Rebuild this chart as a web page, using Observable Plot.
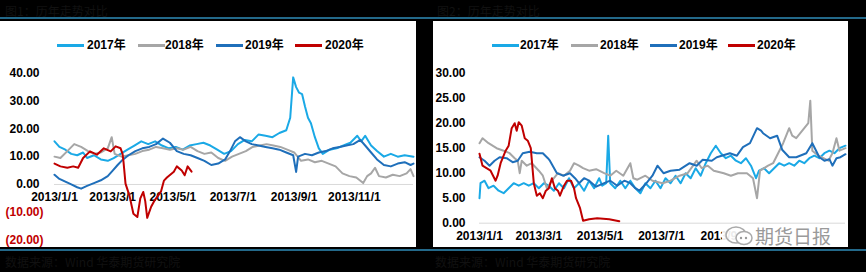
<!DOCTYPE html>
<html><head><meta charset="utf-8">
<script src="https://cdn.jsdelivr.net/npm/d3@7"></script>
<script src="https://cdn.jsdelivr.net/npm/@observablehq/plot@0.6"></script>
<style>
html,body{margin:0;padding:0;background:#000;width:866px;height:272px;overflow:hidden;font-family:"Liberation Sans",Arial,sans-serif;}
.rule{position:absolute;left:0;width:866px;height:2px;background:#23698a;}
.title{position:absolute;top:2px;font-size:12px;color:#111;font-family:"Noto Sans CJK SC",sans-serif;white-space:nowrap;}
.foot{position:absolute;top:253px;font-size:12px;color:#111;font-family:"Noto Sans CJK SC",sans-serif;white-space:nowrap;}
.panel{position:absolute;top:21px;height:226px;background:#fff;overflow:hidden;}
.panel svg{position:absolute;left:0;top:0;}
.sw{position:absolute;height:3px;width:27px;}
.lt{position:absolute;font-size:12px;font-weight:bold;color:#000;line-height:14px;font-family:"Liberation Sans","Noto Sans CJK SC",sans-serif;}
.wm{position:absolute;left:289px;top:203px;width:124px;height:23px;background:rgba(255,255,255,0.92);}
.wm span{position:absolute;left:33px;top:-2px;font-size:19px;color:#9a9a9a;font-family:"Noto Sans CJK SC",sans-serif;}
</style>
</head><body>
<div class="title" style="left:5px">图1：历年走势对比</div>
<div class="title" style="left:437px">图2：历年走势对比</div>
<div class="rule" style="top:17px"></div>
<div class="rule" style="top:249px"></div>
<div class="foot" style="left:5px">数据来源：Wind 华泰期货研究院</div>
<div class="foot" style="left:435px">数据来源：Wind 华泰期货研究院</div>
<div id="left" class="panel" style="left:0;width:416px"></div>
<div id="right" class="panel" style="left:433px;width:415px"></div>
<script>
// ---------- data ----------
const seriesNames = ["2017年", "2018年", "2019年", "2020年"];
const seriesColors = ["#1aa9e6", "#a6a6a6", "#1f6fba", "#c00000"];
const xTickLabels = ["2013/1/1", "2013/3/1", "2013/5/1", "2013/7/1", "2013/9/1", "2013/11/1"];
const leftYTicks = [-20, -10, 0, 10, 20, 30, 40];
const rightYTicks = [0, 5, 10, 15, 20, 25, 30];

const left2017 = [["01-01",15.5],["01-06",13.5],["01-12",12.5],["01-18",11],["01-24",10.5],["01-30",11.5],["02-03",9.5],["02-10",10.5],["02-17",9],["02-24",8.5],["03-02",9.5],["03-09",11],["03-16",12.5],["03-23",14],["03-30",15.5],["04-06",14.5],["04-13",15.5],["04-20",14],["04-27",13],["05-04",13.5],["05-11",12.5],["05-18",14],["05-25",14.5],["06-01",15],["06-08",14],["06-15",12.5],["06-22",11],["06-29",12],["07-06",14.5],["07-13",16],["07-20",15.5],["07-27",18],["08-03",17.5],["08-10",17],["08-17",18.5],["08-24",19.5],["08-28",24],["08-31",38.5],["09-03",35],["09-06",33],["09-09",32.5],["09-12",28],["09-15",24],["09-18",22],["09-22",17],["09-26",13],["09-30",11],["10-07",12.5],["10-14",13],["10-21",14],["10-28",15],["11-04",17.5],["11-08",15.5],["11-12",17.5],["11-18",14],["11-24",12],["12-01",10],["12-08",11],["12-15",10],["12-22",10.5],["12-31",10]];
const left2018 = [["01-01",10],["01-07",9.5],["01-14",12],["01-21",14.5],["01-28",13.5],["02-04",12],["02-10",11],["02-17",11.5],["02-24",13],["02-28",17],["03-03",11],["03-10",10],["03-17",10.5],["03-24",11],["03-31",12],["04-07",12.5],["04-14",13.5],["04-21",13],["04-28",12.5],["05-05",13],["05-12",12.5],["05-19",13.5],["05-26",12],["06-02",11],["06-09",11.5],["06-16",9.5],["06-23",8.5],["06-30",10],["07-07",11],["07-14",12],["07-21",13.5],["07-28",14],["08-04",14.5],["08-11",14],["08-18",13.5],["08-25",12.5],["09-01",11.5],["09-08",8.5],["09-15",9],["09-22",8],["09-29",8.5],["10-06",7.5],["10-13",6.5],["10-20",4],["10-27",3],["11-03",2.5],["11-10",0.5],["11-14",3],["11-18",4],["11-22",6],["11-26",3],["12-03",2.5],["12-10",3.5],["12-17",3],["12-24",4],["12-28",5.5],["12-31",3]];
const left2019 = [["01-01",3.5],["01-06",2],["01-12",1],["01-18",0],["01-24",-1],["01-28",-1.5],["02-03",-0.5],["02-10",0.5],["02-17",1.5],["02-24",3],["03-01",5],["03-06",7],["03-10",8.5],["03-17",10.5],["03-24",12],["03-31",13],["04-07",13.5],["04-14",14.5],["04-21",16.5],["04-28",15],["05-05",12],["05-12",11],["05-19",10.5],["05-26",9.5],["06-02",8.5],["06-09",7],["06-16",7.5],["06-23",9],["06-28",12],["07-03",15.5],["07-08",17],["07-14",15.5],["07-20",14.5],["07-27",14],["08-03",13.5],["08-10",13],["08-17",12.5],["08-24",11.5],["08-31",10.5],["09-03",4.5],["09-05",10],["09-12",11],["09-19",10.5],["09-26",11.5],["10-03",12],["10-10",13],["10-17",13.5],["10-24",14],["10-31",14.5],["11-07",16],["11-12",14],["11-18",11.5],["11-24",9],["12-01",7],["12-08",6.5],["12-15",7.5],["12-22",8],["12-28",7],["12-31",7.5]];
const left2020 = [["01-01",7.5],["01-07",6.5],["01-14",6],["01-20",6.5],["01-25",6],["01-30",9.5],["02-06",11.9],["02-13",10.7],["02-20",13],["02-27",11.9],["03-04",13.7],["03-09",13],["03-11",11],["03-12",8],["03-14",0.3],["03-18",-4],["03-22",-10.5],["03-26",-11.7],["03-29",-5],["04-01",-2.7],["04-03",-6],["04-05",-12],["04-09",-8],["04-12",-6],["04-16",-4],["04-19",-2.5],["04-22",1.4],["04-25",2.5],["05-02",4.6],["05-05",6.5],["05-10",5],["05-13",3.3],["05-16",6.5],["05-20",4.6]];

const right2017 = [["01-01",5],["01-02",8],["01-06",8.5],["01-10",7],["01-15",7.5],["01-20",6.5],["01-25",6],["01-30",7],["02-04",8],["02-09",7.5],["02-14",8],["02-19",7.5],["02-24",8],["03-01",7],["03-06",8],["03-11",7.5],["03-16",6.5],["03-21",8],["03-26",7],["03-31",9],["04-05",7],["04-10",8],["04-15",6.5],["04-20",8.5],["04-25",7],["04-30",9],["05-03",7.5],["05-07",8],["05-09",17.5],["05-11",8],["05-16",7],["05-21",8.5],["05-26",7],["05-31",8.5],["06-05",7],["06-10",6],["06-15",8],["06-20",7],["06-25",8.5],["06-30",7],["07-05",9],["07-10",8],["07-15",9.5],["07-20",8],["07-25",10],["07-30",9],["08-04",11],["08-09",9.5],["08-14",12],["08-19",14],["08-24",15.5],["08-29",14],["09-03",13],["09-08",13.5],["09-13",12.5],["09-18",12],["09-23",13],["09-28",11.5],["10-03",9],["10-06",10.5],["10-11",11],["10-16",10],["10-21",11],["10-26",12],["10-31",11.5],["11-05",12],["11-10",11.5],["11-15",12.5],["11-20",12],["11-25",13],["11-30",13.5],["12-05",13],["12-10",14],["12-15",14.5],["12-20",14],["12-25",15],["12-31",15.5]];
const right2018 = [["01-01",16],["01-04",17],["01-10",16],["01-18",15],["01-25",14.5],["01-31",14],["02-05",13],["02-08",12.5],["02-10",10],["02-12",12.5],["02-17",11.5],["02-22",12],["03-01",10.5],["03-05",9.5],["03-09",7],["03-14",8.5],["03-20",10],["03-26",9.5],["04-01",10.5],["04-05",12],["04-10",11.5],["04-14",11],["04-20",10.5],["04-27",10.8],["05-05",10],["05-11",9.5],["05-17",10.5],["05-24",9.5],["05-31",12],["06-03",9],["06-07",8.7],["06-15",9.5],["06-22",8.5],["07-02",8],["07-10",8.5],["07-19",9.5],["07-27",10],["08-05",12.5],["08-10",11],["08-16",11.5],["08-22",10.5],["09-01",10],["09-08",9.5],["09-15",10],["09-24",10],["09-30",9],["10-04",5],["10-07",10.5],["10-15",11.5],["10-20",12],["10-25",14],["10-30",16],["11-05",19],["11-08",17.5],["11-12",17],["11-18",18.5],["11-24",20],["11-26",24.5],["11-28",14.5],["12-04",13.5],["12-09",13],["12-14",12.5],["12-18",14],["12-22",17],["12-25",14.5],["12-31",15]];
const right2019 = [["01-01",13.2],["01-06",12.5],["01-11",11.5],["01-16",12.5],["01-21",13.2],["01-28",13],["02-03",12.2],["02-08",12.5],["02-13",14],["02-20",14.3],["02-27",14],["03-05",14],["03-10",13],["03-12",12.5],["03-19",10],["03-25",9.5],["04-01",10],["04-06",9],["04-10",8],["04-15",9],["04-20",8.5],["04-27",7.3],["05-05",8],["05-11",8.5],["05-18",7.5],["05-25",8.5],["05-31",8],["06-05",7],["06-09",6.5],["06-16",8],["06-22",9.5],["06-27",11.5],["07-03",10],["07-10",10.5],["07-19",10.7],["07-29",12],["08-05",11.5],["08-11",12.7],["08-20",12.5],["08-25",13.2],["09-07",14],["09-14",13.5],["09-20",15.2],["09-27",16],["10-04",19],["10-08",18.5],["10-10",18],["10-17",17],["10-24",17.5],["10-29",14.7],["11-05",13.2],["11-12",13.2],["11-22",14],["11-28",16],["12-05",13.2],["12-10",12.5],["12-15",12.8],["12-18",11.5],["12-22",13],["12-26",13.2],["12-31",13.8]];
const right2020 = [["01-01",13.9],["01-04",11.5],["01-08",11],["01-12",10.5],["01-17",8.5],["01-19",9.5],["01-22",12],["01-27",14.5],["01-30",15.5],["02-02",19],["02-05",20],["02-07",18.5],["02-09",20.2],["02-12",19.5],["02-15",17],["02-18",16.5],["02-21",15],["02-24",8],["02-27",5.5],["03-02",6],["03-05",5],["03-08",6.5],["03-11",7],["03-14",9],["03-17",7],["03-20",6.5],["03-22",5.5],["03-26",7.5],["03-29",8.5],["04-02",8.5],["04-05",7],["04-07",5],["04-11",3],["04-14",0.5],["04-20",0.8],["04-28",1],["05-10",0.8],["05-20",0.4]];

// ---------- helpers ----------
const toDate = md => new Date(`2013-${md}T00:00:00Z`);
const parseTick = d3.utcParse("%Y/%m/%d");
const rows = arr => arr.map(([md, v]) => ({date: toDate(md), value: v}));
const font = `"Liberation Sans", Arial, sans-serif`;

function legend(el, swatchX, textX) {
  seriesNames.forEach((name, i) => {
    const s = document.createElement("div");
    s.className = "sw";
    s.style.left = swatchX[i] + "px";
    s.style.top = "23px";
    s.style.background = seriesColors[i];
    el.appendChild(s);
    const t = document.createElement("div");
    t.className = "lt";
    t.style.left = textX[i] + "px";
    t.style.top = "17px";
    t.textContent = name;
    el.appendChild(t);
  });
}

function panel(el, cfg) {
  const lines = cfg.series.map((s, i) => Plot.line(rows(s), {x: "date", y: "value", stroke: seriesColors[i], strokeWidth: 2}));
  const chart = Plot.plot({
    width: cfg.width, height: 226,
    marginLeft: cfg.marginLeft, marginRight: 3, marginTop: cfg.marginTop, marginBottom: cfg.marginBottom,
    x: {type: "utc", domain: [toDate("01-01"), toDate("12-31")], axis: null},
    y: {domain: cfg.yDomain, label: null},
    style: {background: "transparent", fontFamily: font, fontSize: "12px", fontWeight: "bold", color: "#000", overflow: "visible"},
    marks: [
      Plot.ruleY([0], {stroke: "#d9d9d9", strokeWidth: 1}),
      Plot.axisY(cfg.yTicks.filter(d => d >= 0), {tickSize: 0, tickPadding: cfg.pad, tickFormat: d => d.toFixed(2), label: null, fill: "#000"}),
      Plot.axisY(cfg.yTicks.filter(d => d < 0), {tickSize: 0, tickPadding: cfg.pad - 4, tickFormat: d => `(${Math.abs(d).toFixed(2)})`, label: null, fill: "#c00000"}),
      Plot.text(cfg.xTicks, {x: d => parseTick(d), y: () => 0, text: d => d, dy: cfg.xdy, fontSize: 12, fontWeight: "bold", fill: "#000"}),
      ...lines
    ]
  });
  el.appendChild(chart);
}

const L = document.getElementById("left");
const R = document.getElementById("right");
panel(L, {width: 416, marginLeft: 54, marginTop: 51.7, marginBottom: 7.4, yDomain: [-20, 40], yTicks: leftYTicks, pad: 15, xdy: 13,
  xTicks: xTickLabels, series: [left2017, left2018, left2019, left2020]});
// on the right the watermark hides the last date label
panel(R, {width: 415, marginLeft: 46, marginTop: 51.7, marginBottom: 24.3, yDomain: [0, 30], yTicks: rightYTicks, pad: 14, xdy: 12.5,
  xTicks: xTickLabels.slice(0, 5), series: [right2017, right2018, right2019, right2020]});
legend(L, [57, 138, 216, 295], [87, 165, 245, 325]);
legend(R, [59, 138, 217, 295], [87, 167, 246, 324]);

// watermark
const wm = document.createElement("div");
wm.className = "wm";
wm.innerHTML = `<svg width="30" height="23" style="position:absolute;left:2px;top:0"><ellipse cx="12" cy="11" rx="10" ry="8" fill="none" stroke="#aaa" stroke-width="1.5"/><ellipse cx="20" cy="14" rx="8" ry="6.5" fill="#fff" stroke="#aaa" stroke-width="1.5"/><circle cx="17" cy="14" r="1.2" fill="#999"/><circle cx="22" cy="14" r="1.2" fill="#999"/></svg><span>期货日报</span>`;
R.appendChild(wm);
</script>
</body></html>
